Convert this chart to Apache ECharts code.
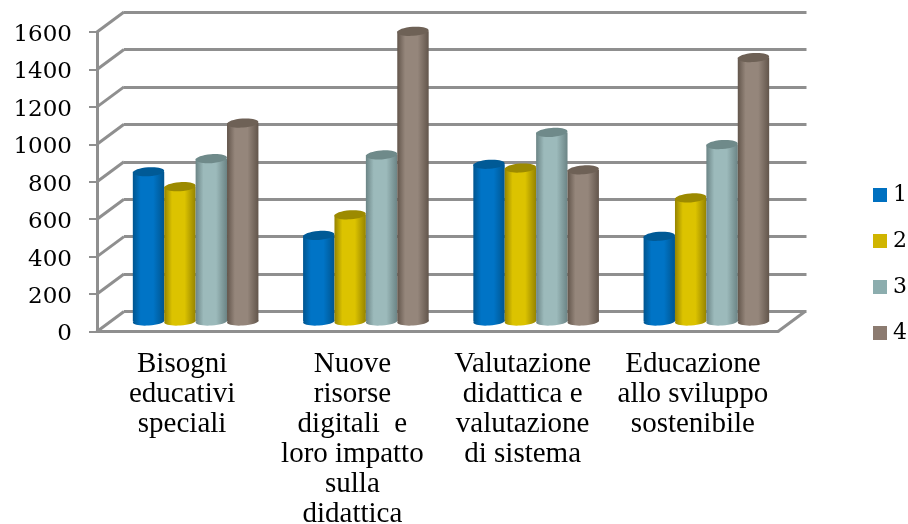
<!DOCTYPE html>
<html>
<head>
<meta charset="utf-8">
<style>html,body{margin:0;padding:0;background:#fff}#chart{width:908px;height:524px}</style>
<script src="https://cdn.jsdelivr.net/npm/echarts@6/dist/echarts.min.js"></script>
</head>
<body>
<div id="chart"></div>
<script>
const categories = [
  'Bisogni\neducativi\nspeciali',
  'Nuove\nrisorse\ndigitali  e\nloro impatto\nsulla\ndidattica',
  'Valutazione\ndidattica e\nvalutazione\ndi sistema',
  'Educazione\nallo sviluppo\nsostenibile'
];
const seriesNames = ['1', '2', '3', '4'];
const values1 = [800, 460, 840, 455];
const values2 = [720, 570, 820, 660];
const values3 = [870, 890, 1010, 945];
const values4 = [1060, 1550, 810, 1410];
const ticks = [0, 200, 400, 600, 800, 1000, 1200, 1400, 1600];

const allValues = [values1, values2, values3, values4];
const legendColors = ['#0070C0', '#D0B500', '#8CADAE', '#8C7B70'];
// edge, middle, top face
const shades = [
  ['#00558f', '#0074c6', '#005a96'],
  ['#958300', '#dcc300', '#9c8a00'],
  ['#6b8485', '#9cbabb', '#6f8a8a'],
  ['#62554b', '#95867b', '#6e6156']
];

const wallColor = '#8f8f8f';
const wallWidth = 3;
const depthX = 27;
const depthY = 20;
const barOffsetX = 13.5;
const barOffsetY = 10;
const barWidth = 31.4;
const capRy = 4.5;
const labelFont = 'Liberation Serif';
const tickFont = 'DejaVu Serif';

function renderCylinder(seriesIndex, params, api) {
  const top = api.coord([api.value(0), api.value(1)]);
  const base = api.coord([api.value(0), 0]);
  const x = top[0] + barOffsetX + (seriesIndex - 1.5) * barWidth;
  const yTop = top[1] - barOffsetY;
  const yBase = base[1] - barOffsetY;
  const s = shades[seriesIndex];
  const side = {
    type: 'linear', x: 0, y: 0, x2: 1, y2: 0,
    colorStops: [
      { offset: 0, color: s[0] },
      { offset: 0.25, color: s[1] },
      { offset: 0.65, color: s[1] },
      { offset: 1, color: s[0] }
    ]
  };
  const ellipse = (cy, ry, fill) => ({
    type: 'ellipse',
    originX: x,
    originY: cy,
    rotation: 0.07,
    shape: { cx: x, cy: cy, rx: barWidth / 2, ry: ry },
    style: { fill: fill }
  });
  return {
    type: 'group',
    children: [
      ellipse(yBase, 4, side),
      {
        type: 'rect',
        shape: { x: x - barWidth / 2, y: yTop, width: barWidth, height: yBase - yTop },
        style: { fill: side }
      },
      ellipse(yTop, capRy, s[2])
    ]
  };
}

function renderWall(params, api) {
  const cs = params.coordSys;
  const y = api.coord([0, api.value(0)])[1];
  const lineStyle = { stroke: wallColor, lineWidth: wallWidth };
  const children = [{
    type: 'line',
    shape: { x1: cs.x, y1: y, x2: cs.x + depthX, y2: y - depthY },
    style: lineStyle
  }];
  if (api.value(0) === 0) {
    children.push({
      type: 'line',
      shape: { x1: cs.x + cs.width, y1: y, x2: cs.x + cs.width + depthX, y2: y - depthY },
      style: lineStyle
    });
  }
  return { type: 'group', children: children };
}

const chart = echarts.init(document.getElementById('chart'));

chart.setOption({
  animation: false,
  backgroundColor: '#fff',
  legend: {
    data: seriesNames,
    orient: 'vertical',
    left: 868,
    top: 179,
    icon: 'rect',
    itemWidth: 14,
    itemHeight: 14,
    itemGap: 24,
    textStyle: { fontFamily: tickFont, fontSize: 22, color: '#000', lineHeight: 22, padding: [0, 0, 0, 1] }
  },
  grid: [
    { left: 97, right: 130, top: 32, height: 299.5, outerBoundsMode: 'none' },
    { left: 124, right: 101.5, top: 12, height: 299.5, outerBoundsMode: 'none' }
  ],
  xAxis: [
    {
      type: 'category',
      gridIndex: 0,
      data: categories,
      axisLine: { lineStyle: { color: wallColor, width: wallWidth } },
      axisTick: { length: 7, alignWithLabel: false, lineStyle: { color: wallColor, width: 2 } },
      axisLabel: {
        interval: 0,
        margin: 18,
        fontFamily: labelFont,
        fontSize: 29,
        lineHeight: 30,
        color: '#000'
      }
    },
    { type: 'category', gridIndex: 1, show: false, data: categories }
  ],
  yAxis: [
    {
      type: 'value',
      gridIndex: 0,
      min: 0,
      max: 1600,
      interval: 200,
      axisLine: { show: true, lineStyle: { color: wallColor, width: wallWidth } },
      axisTick: { show: true, length: 8, lineStyle: { color: wallColor, width: 2 } },
      axisLabel: {
        margin: 25,
        color: '#000',
        formatter: (v) => '{n|' + v + '}',
        rich: { n: { fontFamily: tickFont, fontSize: 23, color: '#000', padding: [6, 0, 0, 0] } }
      },
      splitLine: { show: false }
    },
    {
      type: 'value',
      gridIndex: 1,
      min: 0,
      max: 1600,
      interval: 200,
      axisLine: { show: false },
      axisTick: { show: false },
      axisLabel: { show: false },
      splitLine: { show: true, lineStyle: { color: wallColor, width: wallWidth } }
    }
  ],
  series: [
    {
      type: 'custom',
      name: 'walls',
      xAxisIndex: 0,
      yAxisIndex: 0,
      clip: false,
      silent: true,
      data: ticks.map((t) => [t]),
      encode: { y: 0 },
      renderItem: renderWall,
      z: 1
    }
  ].concat(allValues.map((vals, i) => ({
    type: 'custom',
    name: seriesNames[i],
    xAxisIndex: 0,
    yAxisIndex: 0,
    clip: false,
    itemStyle: { color: legendColors[i] },
    data: vals.map((v, c) => [c, v]),
    encode: { x: 0, y: 1 },
    renderItem: (params, api) => renderCylinder(i, params, api),
    z: 3 + i
  })))
});

window.addEventListener('resize', () => chart.resize());
</script>
</body>
</html>
